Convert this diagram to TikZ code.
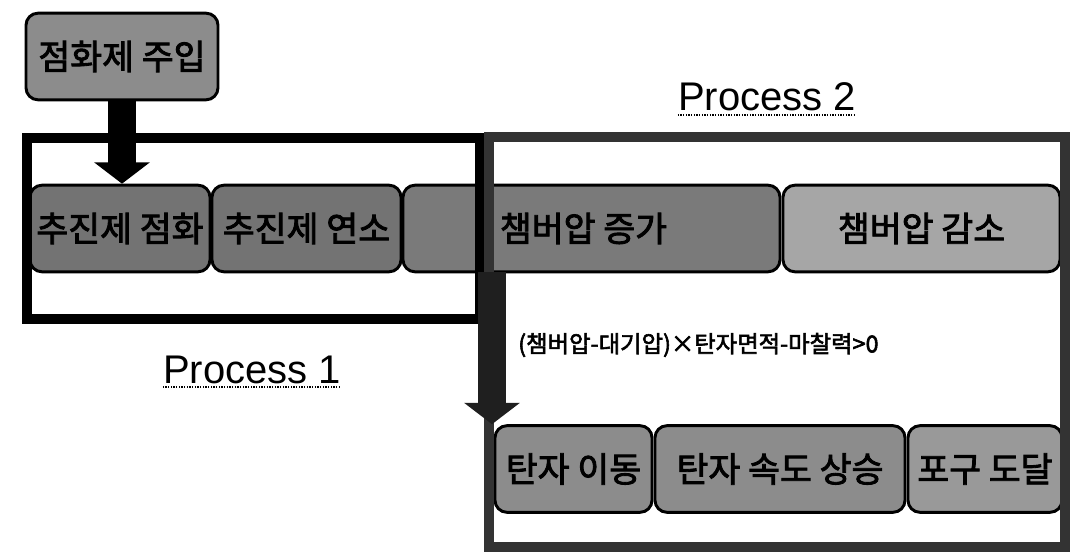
\documentclass[tikz,border=0pt]{standalone}
\usepackage{fontspec}
\setmainfont{Liberation Sans}
\newfontfamily\kr[FakeBold=2.5]{Noto Sans CJK KR}
\usetikzlibrary{arrows.meta}
\begin{document}
\begin{tikzpicture}[x=0.75pt,y=-0.75pt,
  box/.style={draw=black, line width=2.2pt, rounded corners=9pt, fill=#1,
    inner sep=0pt, minimum height=65pt, font=\kr\fontsize{26}{29}\selectfont},
  frame1/.style={draw=black, line width=7.5pt},
  frame2/.style={draw=black!80, line width=6.8pt},
  bigarrow/.style={draw=#1, line width=21pt,
    -{Triangle[width=41pt,length=16pt,fill=#1]}},
  plabel/.style={font=\fontsize{30}{34}\selectfont, inner sep=0pt},
  cond/.style={font=\kr\fontsize{17.5}{20}\selectfont, inner sep=0pt}]
\useasboundingbox (0,0) rectangle (1078,552);
% boxes
\node[box=black!45, minimum width=144pt] (inj) at (122,56.5) {점화제 주입};
\node[box=black!55, minimum width=135pt] (b1) at (120,228.5) {추진제 점화};
\node[box=black!55, minimum width=141.75pt] (b2) at (306.5,228.5) {추진제 연소};
\node[box=black!52, minimum width=282.75pt] (b3) at (591.5,228.5) {\hspace*{-12pt}챔버압 증가};
\node[box=black!35, minimum width=207.75pt] (b4) at (921.5,228.5) {챔버압 감소};
\node[box=black!45, minimum width=117.75pt] (c1) at (573.5,469) {탄자 이동};
\node[box=black!45, minimum width=187.5pt] (c2) at (780,469) {탄자 속도 상승};
\node[box=black!40, minimum width=115.5pt] (c3) at (985,469) {포구 도달};
% frames
\draw[frame1] (27,138) rectangle (480,319);
\draw[frame2] (489,137) rectangle (1065,547);
% labels
\node[plabel, anchor=base] (p1) at (252,383) {Process 1};
\node[plabel, anchor=base] (p2) at (767,111) {Process 2};
\draw[densely dotted, line width=1pt] ([yshift=-3pt]p1.base west) -- ([yshift=-3pt]p1.base east);
\draw[densely dotted, line width=1pt] ([yshift=-3pt]p2.base west) -- ([yshift=-3pt]p2.base east);
\node[cond, anchor=west] (cnd) at (518,345) {(챔버압-대기압)×탄자면적-마찰력>0};
% arrows
\draw[bigarrow=black] (inj.south) -- (inj.south |- b1.north);
\coordinate (a2s) at (492,272);
\draw[bigarrow=black!88] (a2s) -- (a2s |- c1.north);
\end{tikzpicture}
\end{document}
